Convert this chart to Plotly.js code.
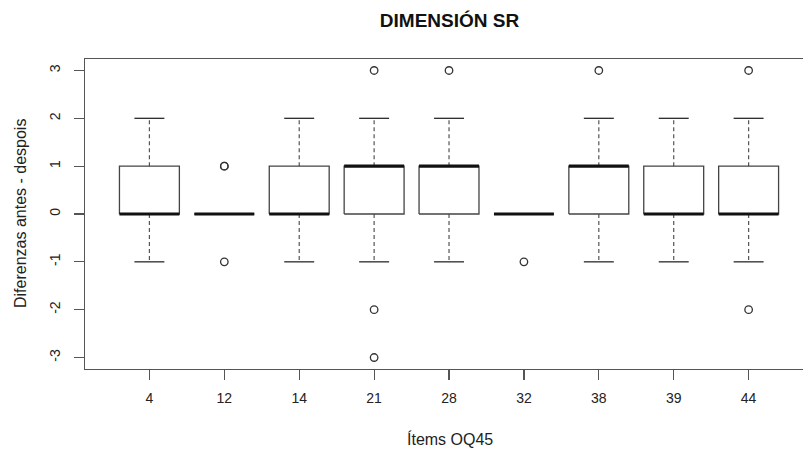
<!DOCTYPE html>
<html>
<head>
<meta charset="utf-8">
<script src="https://cdn.plot.ly/plotly-3.0.1.min.js"></script>
<style>html,body{margin:0;padding:0;background:#fff;}#chart{width:803px;height:452px;}</style>
</head>
<body>
<div id="chart"></div>
<script>
// Data
var items = ['4', '12', '14', '21', '28', '32', '38', '39', '44'];
var lowerWhisker = [-1, 0, -1, -1, -1, 0, -1, -1, -1];
var q1 = [0, 0, 0, 0, 0, 0, 0, 0, 0];
var median = [0, 0, 0, 1, 1, 0, 1, 0, 0];
var q3 = [1, 0, 1, 1, 1, 0, 1, 1, 1];
var upperWhisker = [2, 0, 2, 2, 2, 0, 2, 2, 2];
var outlierItem = ['12', '12', '12', '21', '21', '21', '28', '32', '38', '44', '44'];
var outlierValue = [1, 1, -1, 3, -2, -3, 3, -1, 3, 3, -2];
var yTicks = [-3, -2, -1, 0, 1, 2, 3];

var HALF = 0.4, CAP = 0.2;
var pos = items.map(function (_, i) { return i + 1; });
function idx(lbl) { return items.indexOf(lbl) + 1; }

var boxX = [], boxY = [], medX = [], medY = [], whX = [], whY = [], capX = [], capY = [];
pos.forEach(function (p, i) {
  boxX.push(p - HALF, p + HALF, p + HALF, p - HALF, p - HALF, null);
  boxY.push(q1[i], q1[i], q3[i], q3[i], q1[i], null);
  medX.push(p - HALF, p + HALF, null);
  medY.push(median[i], median[i], null);
  if (upperWhisker[i] > q3[i]) { whX.push(p, p, null); whY.push(q3[i], upperWhisker[i], null); }
  if (lowerWhisker[i] < q1[i]) { whX.push(p, p, null); whY.push(q1[i], lowerWhisker[i], null); }
  capX.push(p - CAP, p + CAP, null, p - CAP, p + CAP, null);
  capY.push(upperWhisker[i], upperWhisker[i], null, lowerWhisker[i], lowerWhisker[i], null);
});

var ink = '#2a2a2a';
var traces = [
  {x: whX, y: whY, mode: 'lines', line: {color: '#555', width: 1.2, dash: '4px,3px'}, hoverinfo: 'skip'},
  {x: capX, y: capY, mode: 'lines', line: {color: ink, width: 1.3}, hoverinfo: 'skip'},
  {x: boxX, y: boxY, mode: 'lines', line: {color: '#444', width: 1.3}, hoverinfo: 'skip'},
  {x: medX, y: medY, mode: 'lines', line: {color: '#111', width: 3.2}, hoverinfo: 'skip'},
  {x: outlierItem.map(idx), y: outlierValue, mode: 'markers',
   marker: {symbol: 'circle-open', size: 7.5, color: '#333', line: {width: 1.3, color: '#333'}}, hoverinfo: 'skip'}
];

var font = 'Liberation Sans, Arial, sans-serif';
var layout = {
  width: 803, height: 452,
  margin: {l: 85, r: 0, t: 59, b: 83, pad: 0},
  paper_bgcolor: '#fff', plot_bgcolor: '#fff',
  showlegend: false,
  font: {family: font, color: '#222', size: 14},
  title: {text: '<b>DIMENSIÓN SR</b>', font: {family: font, size: 19, color: '#111'},
          x: 0.5077, xref: 'paper', xanchor: 'center', y: 0.955, yref: 'container', yanchor: 'middle'},
  xaxis: {
    range: [0.14, 9.726], tickmode: 'array', tickvals: pos, ticktext: items,
    showgrid: false, zeroline: false, showline: true, mirror: true, linecolor: '#555', linewidth: 1.3,
    ticks: 'outside', ticklen: 10, tickcolor: '#555', tickwidth: 1.2,
    tickfont: {size: 14, color: '#222'}, ticklabelstandoff: 6
  },
  yaxis: {
    range: [-3.24, 3.24], tickmode: 'array', tickvals: yTicks, ticktext: yTicks.map(String),
    showgrid: false, zeroline: false, showline: true, mirror: false, linecolor: '#555', linewidth: 1.3,
    ticks: 'outside', ticklen: 10, tickcolor: '#555', tickwidth: 1.2, tickangle: -90,
    tickfont: {size: 14, color: '#222'}, ticklabelstandoff: 8
  },
  annotations: [
    {text: 'Ítems OQ45', xref: 'paper', yref: 'paper', x: 0.5077, y: 0, xanchor: 'center', yanchor: 'middle',
     yshift: -70, showarrow: false, font: {size: 16, color: '#222'}},
    {text: 'Diferenzas antes - despois', xref: 'paper', yref: 'paper', x: 0, y: 0.5, xanchor: 'center', yanchor: 'middle',
     xshift: -65, textangle: -90, showarrow: false, font: {size: 16, color: '#222'}}
  ]
};

Plotly.newPlot('chart', traces, layout, {staticPlot: true, displayModeBar: false});
</script>
</body>
</html>
